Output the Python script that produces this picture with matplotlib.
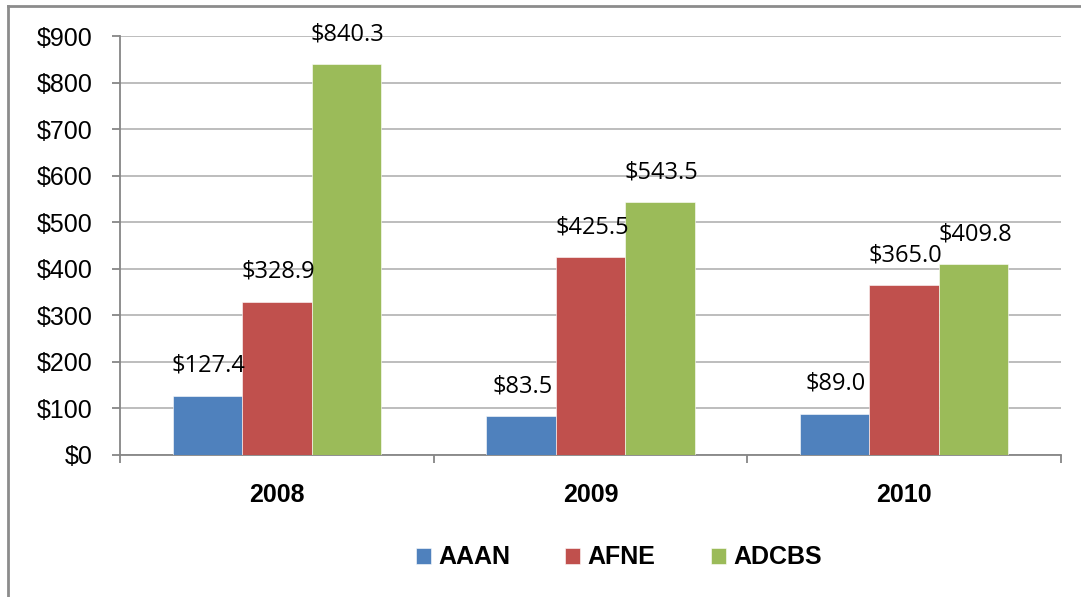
import numpy as np
import matplotlib.pyplot as plt
from matplotlib import font_manager as fm
from matplotlib.lines import Line2D

years = ['2008', '2009', '2010']
series = ['AAAN', 'AFNE', 'ADCBS']
aaan = [127.4, 83.5, 89.0]
afne = [328.9, 425.5, 365.0]
adcbs = [840.3, 543.5, 409.8]
colors = ['#4F81BD', '#C0504D', '#9BBB59']

# pick the regular-width Liberation Sans files (avoid the Narrow variant)
files = fm.findSystemFonts()
reg = [f for f in files if f.endswith('LiberationSans-Regular.ttf')]
bld = [f for f in files if f.endswith('LiberationSans-Bold.ttf')]

def fp(size, bold=False):
    src = bld if bold else reg
    if src:
        return fm.FontProperties(fname=src[0], size=size)
    return fm.FontProperties(family='DejaVu Sans', size=size, weight='bold' if bold else 'normal')

fig = plt.figure(figsize=(10.81, 5.97), dpi=100)
ax = fig.add_axes([0.111, 0.238, 0.8705, 0.701])

# outer chart border (only top and left edges visible)
fig.add_artist(Line2D([0.0074, 0.0074], [0, 0.99], transform=fig.transFigure, color='#8c8c8c', lw=2))
fig.add_artist(Line2D([0.0074, 1.0], [0.99, 0.99], transform=fig.transFigure, color='#8c8c8c', lw=2))

x = np.arange(len(years))
w = 0.2216
for i, (vals, name) in enumerate(zip([aaan, afne, adcbs], series)):
    pos = x + (i - 1) * w
    ax.bar(pos, vals, w, color=colors[i], label=name, edgecolor='#ffffff', linewidth=0.4, zorder=3)
    for p, v in zip(pos, vals):
        ax.annotate(f'${v:.1f}', (p, v), xytext=(1, 13), textcoords='offset points',
                    ha='center', va='bottom', fontsize=17, family='Open Sans', zorder=6)

ax.set_xlim(-0.5, 2.5)
ax.set_ylim(0, 900)
ax.set_yticks(range(0, 901, 100))
ax.set_yticklabels([f'${v}' for v in range(0, 901, 100)], fontproperties=fp(18))
ax.yaxis.grid(True, color='#b8b8b8', lw=1.3, zorder=0)
ax.set_axisbelow(True)

ax.set_xticks([-0.5, 0.5, 1.5, 2.5])
ax.set_xticklabels([])
ax.set_xticks(x, minor=True)
ax.set_xticklabels(years, minor=True, fontproperties=fp(18, bold=True))
ax.tick_params(axis='x', which='minor', length=0, pad=20)
ax.tick_params(axis='x', which='major', length=6, color='#868686', width=1.3)
ax.tick_params(axis='y', length=6, color='#868686', width=1.3, pad=14)

for s in ['top', 'right']:
    ax.spines[s].set_visible(False)
for s in ['left', 'bottom']:
    ax.spines[s].set_color('#868686')
    ax.spines[s].set_linewidth(1.3)

ax.legend(loc='center', bbox_to_anchor=(0.53, -0.245), ncol=3, frameon=False,
          prop=fp(18, bold=True),
          handlelength=0.6, handleheight=0.6, handletextpad=0.3, columnspacing=2.2)

fig.savefig('out.png', dpi=100)
